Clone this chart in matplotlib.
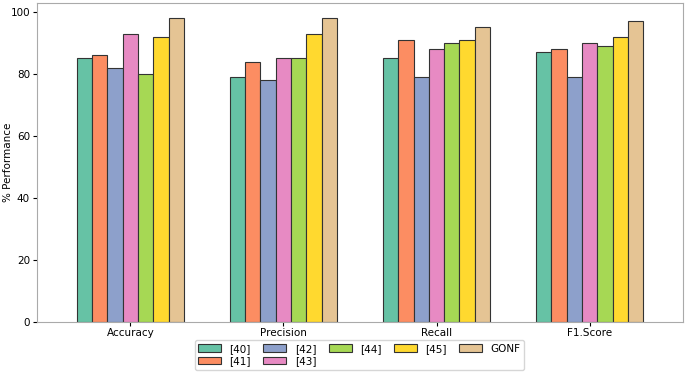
import numpy as np
import matplotlib.pyplot as plt

# Data
metrics = ["Accuracy", "Precision", "Recall", "F1.Score"]
methods = ["[40]", "[41]", "[42]", "[43]", "[44]", "[45]", "GONF"]
ref40 = [85, 79, 85, 87]
ref41 = [86, 84, 91, 88]
ref42 = [82, 78, 79, 79]
ref43 = [93, 85, 88, 90]
ref44 = [80, 85, 90, 89]
ref45 = [92, 93, 91, 92]
gonf = [98, 98, 95, 97]
series = [ref40, ref41, ref42, ref43, ref44, ref45, gonf]

colors = ["#66c2a5", "#fc8d62", "#8da0cb", "#e78ac3", "#a6d854", "#ffd92f", "#e5c494"]

fig = plt.figure(figsize=(6.85, 3.72), dpi=100)
ax = fig.add_axes([0.054, 0.134, 0.943, 0.858])

x = np.arange(len(metrics))
w = 0.1
for i, (vals, name) in enumerate(zip(series, methods)):
    ax.bar(x + (i - 3) * w, vals, w, color=colors[i], edgecolor="#333333",
           linewidth=0.8, label=name)

ax.set_xticks(x)
ax.set_xticklabels(metrics, fontsize=7.5)
ax.tick_params(axis="x", length=3, pad=1.5)
ax.tick_params(axis="y", labelsize=7.5, length=3, pad=2)
ax.set_xlim(-0.61, 3.61)
ax.set_ylabel("% Performance", fontsize=7.5)
ax.yaxis.set_label_coords(-0.037, 0.5)
for s in ax.spines.values():
    s.set_color("#aaaaaa")

ax.legend(loc="upper center", bbox_to_anchor=(0.499, -0.04), ncol=5,
          fontsize=7.5, frameon=True, handlelength=2.2, columnspacing=1.2,
          labelspacing=0.25, borderpad=0.35)

fig.savefig("out.png", dpi=100)
